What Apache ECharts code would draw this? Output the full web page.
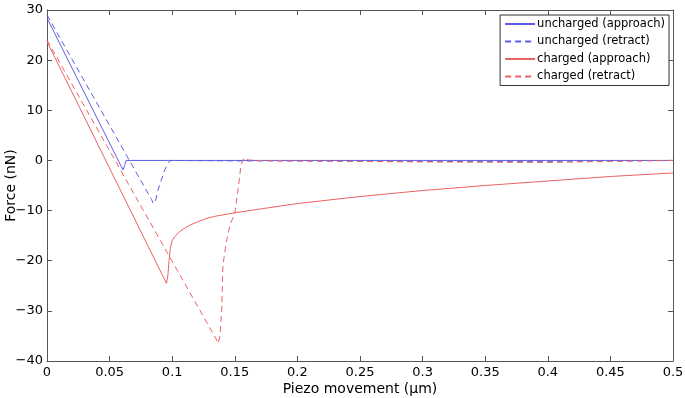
<!DOCTYPE html>
<html>
<head>
<meta charset="utf-8">
<script src="https://cdn.jsdelivr.net/npm/echarts@6/dist/echarts.min.js"></script>
<style>
  html, body { margin: 0; padding: 0; background: #fff; }
  #chart { width: 685px; height: 398px; }
</style>
</head>
<body>
<div id="chart"></div>
<script>
// values
const seriesNames = ['uncharged (approach)', 'uncharged (retract)', 'charged (approach)', 'charged (retract)'];

const unchargedApproachX = [0, 0.0607, 0.0620, 0.0632, 0.10, 0.20, 0.30, 0.40, 0.50];
const unchargedApproachY = [28.4, -1.9, -1.0, 0, 0, 0, 0, 0, 0];

const unchargedRetractX = [0, 0.0835, 0.0850, 0.0865, 0.0887, 0.0940, 0.0970, 0.0990, 0.15, 0.20, 0.30, 0.40, 0.45, 0.50];
const unchargedRetractY = [29.0, -7.8, -8.6, -8.2, -5.9, -1.9, -0.4, 0, -0.1, -0.1, -0.2, -0.2, -0.1, 0];

const chargedApproachX = [0, 0.0954, 0.0965, 0.0975, 0.0985, 0.100, 0.102, 0.105, 0.110, 0.115, 0.120, 0.127, 0.135, 0.151, 0.170, 0.20, 0.25, 0.30, 0.35, 0.40, 0.45, 0.50];
const chargedApproachY = [23.7, -24.5, -23.0, -20.0, -17.5, -16.0, -15.2, -14.4, -13.5, -12.8, -12.3, -11.6, -11.1, -10.4, -9.7, -8.6, -7.2, -6.0, -5.0, -4.1, -3.2, -2.5];

const chargedRetractX = [0, 0.1355, 0.1366, 0.1382, 0.1395, 0.1405, 0.1430, 0.1460, 0.1500, 0.1530, 0.1550, 0.1575, 0.1610, 0.1650, 0.20, 0.30, 0.40, 0.45, 0.50];
const chargedRetractY = [24.0, -35.8, -36.5, -35.0, -30.0, -21.0, -16.5, -13.0, -10.5, -5.0, -0.8, 0.5, 0.1, 0, -0.1, -0.3, -0.4, -0.2, 0];

const xTicks = [0, 0.05, 0.1, 0.15, 0.2, 0.25, 0.3, 0.35, 0.4, 0.45, 0.5];
const yTicks = [-40, -30, -20, -10, 0, 10, 20, 30];

const blue = '#5c5ce0';
const red = '#ea6262';

function pairs(xs, ys) {
  return xs.map((x, i) => [x, ys[i]]);
}

const chart = echarts.init(document.getElementById('chart'));

const fontFamily = 'DejaVu Sans';
const axisLineStyle = { color: '#555', width: 1 };
const tick = { show: true, inside: true, length: 5, lineStyle: { color: '#555' } };

function makeLine(name, xs, ys, color, dashed) {
  return {
    name: name,
    type: 'line',
    data: pairs(xs, ys),
    symbol: 'none',
    showSymbol: false,
    smooth: false,
    animation: false,
    lineStyle: { color: color, width: 1, type: dashed ? [6, 4] : 'solid' },
    itemStyle: { color: color },
    xAxisIndex: 0,
    yAxisIndex: 0,
  };
}

const option = {
  animation: false,
  textStyle: { fontFamily: fontFamily },
  grid: { left: 47, right: 12, top: 10, bottom: 37, containLabel: false, outerBoundsMode: 'none' },
  legend: {
    data: seriesNames,
    orient: 'vertical',
    right: 16,
    top: 15,
    itemWidth: 30,
    itemHeight: 10,
    itemGap: 5.5,
    padding: [3, 4, 3, 4],
    borderColor: '#333',
    borderWidth: 1,
    borderRadius: 0,
    backgroundColor: '#fff',
    itemStyle: { opacity: 0 },
    textStyle: { fontFamily: fontFamily, fontSize: 11.5, color: '#000', padding: [0, 0, 0, -3] },
  },
  xAxis: [
    {
      type: 'value',
      min: xTicks[0],
      max: xTicks[xTicks.length - 1],
      interval: 0.05,
      name: 'Piezo movement (µm)',
      nameLocation: 'middle',
      nameGap: 21,
      nameMoveOverlap: false,
      nameTextStyle: { fontFamily: fontFamily, fontSize: 14, color: '#000' },
      axisLine: { show: true, onZero: false, lineStyle: axisLineStyle },
      axisTick: tick,
      axisLabel: { fontFamily: fontFamily, fontSize: 13, color: '#000', margin: 5, formatter: (v) => String(+v.toFixed(2)) },
      splitLine: { show: false },
    },
    {
      type: 'value',
      position: 'top',
      min: xTicks[0],
      max: xTicks[xTicks.length - 1],
      interval: 0.05,
      axisLine: { show: true, onZero: false, lineStyle: axisLineStyle },
      axisTick: tick,
      axisLabel: { show: false },
      splitLine: { show: false },
    },
  ],
  yAxis: [
    {
      type: 'value',
      min: yTicks[0],
      max: yTicks[yTicks.length - 1],
      interval: 10,
      name: 'Force (nN)',
      nameLocation: 'middle',
      nameGap: 29,
      nameMoveOverlap: false,
      nameRotate: 90,
      nameTextStyle: { fontFamily: fontFamily, fontSize: 14, color: '#000' },
      axisLine: { show: true, onZero: false, lineStyle: axisLineStyle },
      axisTick: tick,
      axisLabel: { fontFamily: fontFamily, fontSize: 13, color: '#000', margin: 4, formatter: (v) => String(v).replace('-', '\u2212') },
      splitLine: { show: false },
    },
    {
      type: 'value',
      position: 'right',
      min: yTicks[0],
      max: yTicks[yTicks.length - 1],
      interval: 10,
      axisLine: { show: true, onZero: false, lineStyle: axisLineStyle },
      axisTick: tick,
      axisLabel: { show: false },
      splitLine: { show: false },
    },
  ],
  series: [
    makeLine(seriesNames[0], unchargedApproachX, unchargedApproachY, blue, false),
    makeLine(seriesNames[1], unchargedRetractX, unchargedRetractY, blue, true),
    makeLine(seriesNames[2], chargedApproachX, chargedApproachY, red, false),
    makeLine(seriesNames[3], chargedRetractX, chargedRetractY, red, true),
  ],
};

chart.setOption(option);
</script>
</body>
</html>
